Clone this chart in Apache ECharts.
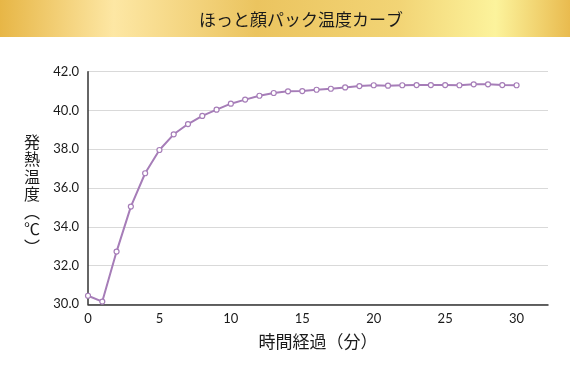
<!DOCTYPE html>
<html>
<head>
<meta charset="utf-8">
<script src="https://cdn.jsdelivr.net/npm/echarts@6/dist/echarts.min.js"></script>
<style>
html,body{margin:0;padding:0;background:#fff;}
#c{width:570px;height:375px;}
</style>
</head>
<body>
<div id="c"></div>
<script>
const title = 'ほっと顔パック温度カーブ';
const xName = '時間経過（分）';
const yName = ['発','熱','温','度','︵','℃','︶'];
const minutes = [0,1,2,3,4,5,6,7,8,9,10,11,12,13,14,15,16,17,18,19,20,21,22,23,24,25,26,27,28,29,30];
const temps = [30.44,30.14,32.72,35.04,36.76,37.96,38.77,39.30,39.72,40.04,40.35,40.56,40.76,40.90,40.99,41.00,41.07,41.12,41.19,41.26,41.30,41.28,41.30,41.31,41.31,41.31,41.30,41.35,41.35,41.31,41.30];
const yTicks = [30,32,34,36,38,40,42];

const chart = echarts.init(document.getElementById('c'), null, {renderer:'canvas'});
const numFont = 'Lato, "Noto Sans", sans-serif';
const jpFont = '"Noto Sans CJK JP", sans-serif';

chart.setOption({
  animation:false,
  backgroundColor:'#fff',
  grid:{left:88,right:22,top:71.7,bottom:70.7,containLabel:false},
  graphic:[
    {type:'rect',left:0,top:0,shape:{width:570,height:37},silent:true,z:-1,
     style:{fill:new echarts.graphic.LinearGradient(0,0,1,0.25,[
       {offset:0,color:'#e7b646'},
       {offset:0.2,color:'#fde7a4'},
       {offset:0.45,color:'#ebc45f'},
       {offset:0.7,color:'#f2d475'},
       {offset:0.87,color:'#fcf39c'},
       {offset:1,color:'#e9bb4f'}])}},
    {type:'text',x:301,y:20,style:{text:title,font:'17px '+jpFont,fill:'#1a1a1a',align:'center',verticalAlign:'middle'}},
    {type:'text',x:32,y:133,style:{text:yName.join('\n'),font:'16px '+jpFont,fill:'#1a1a1a',align:'center',verticalAlign:'top',lineHeight:17.5}},
    {type:'text',x:318,y:342,style:{text:xName,font:'17px '+jpFont,fill:'#1a1a1a',align:'center',verticalAlign:'middle'}}
  ],
  xAxis:{
    type:'value',min:0,max:32.2,interval:5,
    axisLine:{show:true,lineStyle:{color:'#333',width:1.5}},
    axisTick:{show:false},
    splitLine:{show:false},
    axisLabel:{color:'#1a1a1a',fontFamily:numFont,fontSize:13,margin:8,
      formatter:v=> (Math.abs(v%5)<1e-9 ? String(v) : '')}
  },
  yAxis:{
    type:'value',min:yTicks[0],max:yTicks[yTicks.length-1],interval:2,
    axisLine:{show:true,lineStyle:{color:'#333',width:1.5}},
    axisTick:{show:false},
    splitLine:{show:true,lineStyle:{color:'#d9d9d9',width:1.2}},
    axisLabel:{color:'#1a1a1a',fontFamily:numFont,fontSize:13,margin:9,
      formatter:v=>v.toFixed(1)}
  },
  series:[{
    type:'line',
    data:minutes.map((m,i)=>[m,temps[i]]),
    lineStyle:{color:'#a67db8',width:2},
    itemStyle:{color:'#fff',borderColor:'#a67db8',borderWidth:1.2},
    symbol:'circle',symbolSize:5,showSymbol:true
  }]
});
</script>
</body>
</html>
